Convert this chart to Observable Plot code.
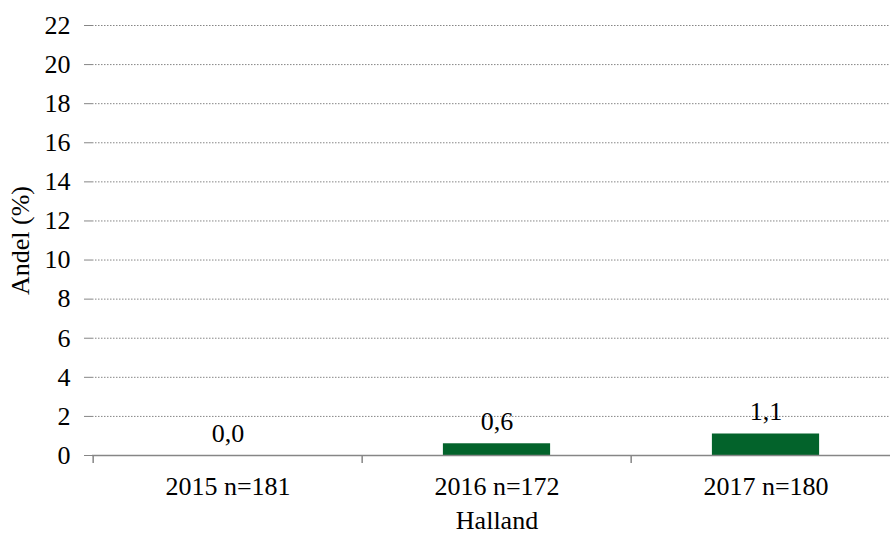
<!DOCTYPE html>
<html>
<head>
<meta charset="utf-8">
<script src="https://cdn.jsdelivr.net/npm/d3@7"></script>
<script src="https://cdn.jsdelivr.net/npm/@observablehq/plot@0.6"></script>
<style>
  html, body { margin: 0; padding: 0; background: #fff; overflow: hidden; }
  #chart svg { overflow: hidden; }
  #chart svg, #chart svg text, #chart svg g { font-family: "Liberation Serif", "Times New Roman", serif !important; }
</style>
</head>
<body>
<div id="chart"></div>
<script>
const categories = ["2015 n=181", "2016 n=172", "2017 n=180"];
const values = [0.0, 0.6, 1.1];
const yTicks = [0, 2, 4, 6, 8, 10, 12, 14, 16, 18, 20, 22];
const yLabel = "Andel (%)";
const xLabel = "Halland";

const data = categories.map((c, i) => ({category: c, value: values[i]}));
const fmt = v => v.toFixed(1).replace(".", ",");

const W = 890, H = 536, ML = 92, MR = -11, MT = 25, MB = 81;
const step = (W - ML - MR) / categories.length;
const gray = "#868686";
const font = "'Liberation Serif', 'Times New Roman', serif";
const FS = 26;

const chart = Plot.plot({
  width: W,
  height: H,
  marginLeft: ML,
  marginRight: MR,
  marginTop: MT,
  marginBottom: MB,
  style: {fontFamily: font, fontSize: FS + "px", color: "#000", background: "#fff"},
  x: {type: "band", domain: categories, padding: 0},
  y: {domain: [0, 22], ticks: yTicks},
  marks: [
    Plot.gridY(yTicks.filter(t => t > 0), {stroke: gray, strokeOpacity: 1, strokeWidth: 1, strokeDasharray: "1.5,1.5"}),
    Plot.barY(data, {x: "category", y: "value", fill: "#03632b", insetLeft: step * 0.3, insetRight: step * 0.3}),
    Plot.text(data, {x: "category", y: "value", text: d => fmt(d.value), dy: -22, fill: "#000", fontSize: FS}),
    Plot.axisY({ticks: yTicks, tickSize: 8, tickPadding: 14, stroke: gray, label: null, fill: "#000", fontSize: FS}),
    Plot.ruleX([0], {frameAnchor: "left", y1: 0, y2: 22, stroke: gray, strokeWidth: 1.5}),
    Plot.ruleY([0], {stroke: gray, strokeWidth: 1.5}),
    Plot.axisX({tickSize: 0, tickPadding: 21, label: null, fill: "#000", fontSize: FS}),
    Plot.axisX({tickSize: 8, text: null, dx: -step / 2, stroke: gray, strokeWidth: 1.5, label: null}),
    Plot.text([yLabel], {frameAnchor: "left", rotate: -90, dx: -72, textAnchor: "middle", lineAnchor: "middle", fill: "#000", fontSize: FS}),
    Plot.text([xLabel], {frameAnchor: "bottom", dy: 65, textAnchor: "middle", lineAnchor: "middle", fill: "#000", fontSize: FS})
  ]
});
document.getElementById("chart").appendChild(chart);
</script>
</body>
</html>
